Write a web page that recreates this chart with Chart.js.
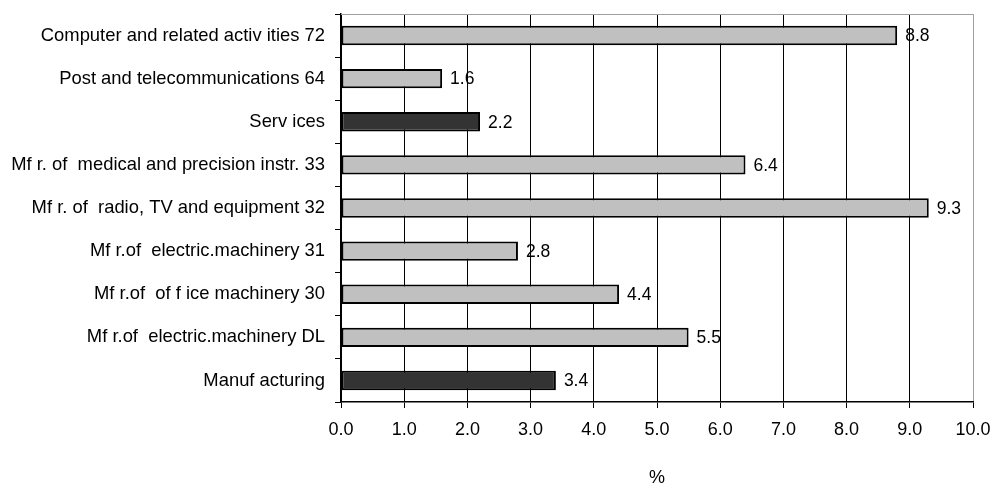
<!DOCTYPE html>
<html>
<head>
<meta charset="utf-8">
<script src="https://cdn.jsdelivr.net/npm/chart.js@4/dist/chart.umd.min.js"></script>
<style>
  html, body { margin: 0; padding: 0; background: #fff; }
  #wrap { width: 992px; height: 486px; position: relative; }
</style>
</head>
<body>
<div id="wrap"><canvas id="c" width="992" height="486"></canvas></div>
<script>
// Sector labels, top to bottom
const categories = [
  'Computer and related activ ities 72',
  'Post and telecommunications 64',
  'Serv ices',
  'Mf r. of  medical and precision instr. 33',
  'Mf r. of  radio, TV and equipment 32',
  'Mf r.of  electric.machinery 31',
  'Mf r.of  of f ice machinery 30',
  'Mf r.of  electric.machinery DL',
  'Manuf acturing'
];
// Percentage values
const values = [8.8, 1.6, 2.2, 6.4, 9.3, 2.8, 4.4, 5.5, 3.4];
// Aggregate rows are drawn dark
const aggregates = ['Serv ices', 'Manuf acturing'];
const xTicks = [0, 1, 2, 3, 4, 5, 6, 7, 8, 9, 10];

const FONT = 'Liberation Sans, Arial, sans-serif';
const LIGHT = '#c0c0c0';
const DARK = '#333333';

// Value text at the end of each bar
const valueLabels = {
  id: 'valueLabels',
  afterDatasetsDraw(chart) {
    const ctx = chart.ctx;
    const meta = chart.getDatasetMeta(0);
    ctx.save();
    ctx.font = '17.5px ' + FONT;
    ctx.fillStyle = '#000';
    ctx.textAlign = 'left';
    ctx.textBaseline = 'middle';
    meta.data.forEach((bar, i) => {
      ctx.fillText(values[i].toFixed(1), bar.x + 8, bar.y + 1);
    });
    ctx.restore();
  }
};

// Grey frame on the top edge of the plot
const topFrame = {
  id: 'topFrame',
  beforeDatasetsDraw(chart) {
    const { ctx, chartArea: a } = chart;
    ctx.save();
    ctx.strokeStyle = '#a0a0a0';
    ctx.lineWidth = 1;
    ctx.beginPath();
    ctx.moveTo(a.left, a.top + 0.5);
    ctx.lineTo(a.right, a.top + 0.5);
    ctx.stroke();
    ctx.restore();
  }
};

new Chart(document.getElementById('c'), {
  type: 'bar',
  data: {
    labels: categories,
    datasets: [{
      data: values,
      backgroundColor: categories.map(c => aggregates.includes(c) ? DARK : LIGHT),
      borderColor: '#000',
      borderWidth: 2,
      borderSkipped: false,
      categoryPercentage: 1,
      barPercentage: 0.45
    }]
  },
  options: {
    indexAxis: 'y',
    responsive: false,
    animation: false,
    layout: { padding: { top: 14, right: 19, left: 0, bottom: 0 } },
    plugins: {
      legend: { display: false },
      tooltip: { enabled: false }
    },
    scales: {
      x: {
        min: 0,
        max: 10,
        afterBuildTicks(scale) {
          scale.ticks = xTicks.map(v => ({ value: v }));
        },
        afterFit(scale) {
          scale.height = 84;
          scale.paddingLeft = 0;
          scale.paddingRight = 0;
        },
        ticks: {
          color: '#000',
          font: { family: FONT, size: 18 },
          padding: 11,
          maxRotation: 0,
          callback: v => Number(v).toFixed(1)
        },
        grid: {
          color: ctx => (ctx.tick && ctx.tick.value === 10) ? '#a0a0a0' : '#000',
          tickColor: '#000',
          lineWidth: 1,
          tickLength: 6,
          drawTicks: true
        },
        border: { display: true, color: '#000', width: 1.5 },
        title: {
          display: true,
          text: '%',
          color: '#000',
          font: { family: FONT, size: 18 },
          padding: { top: 0, bottom: -3 }
        }
      },
      y: {
        afterFit(scale) {
          scale.width = 341;
          scale.paddingTop = 0;
          scale.paddingBottom = 0;
        },
        ticks: {
          color: '#000',
          font: { family: FONT, size: 18.4 },
          padding: 10,
          autoSkip: false
        },
        grid: {
          offset: true,
          drawOnChartArea: false,
          color: '#000',
          tickLength: 6,
          drawTicks: true
        },
        border: { display: true, color: '#000', width: 1.5 }
      }
    }
  },
  plugins: [valueLabels, topFrame]
});
</script>
</body>
</html>
